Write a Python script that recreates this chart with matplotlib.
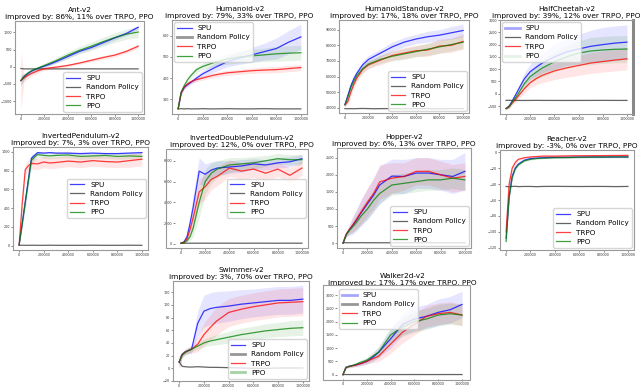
import numpy as np
import matplotlib.pyplot as plt
from matplotlib.patches import Rectangle

steps = [0, 25000, 50000, 75000, 100000, 150000, 200000, 250000, 300000,
         400000, 500000, 600000, 700000, 800000, 900000, 1000000]
x_ticks = [0, 200000, 400000, 600000, 800000, 1000000]
labels = ["SPU", "Random Policy", "TRPO", "PPO"]

# Ant-v2
ant_spu = [-400, -300, -220, -160, -110, -40, 20, 80, 150, 300, 450, 560, 700, 840, 970, 1150]
ant_spu_std = [150, 90, 70, 60, 50, 40, 40, 40, 40, 50, 50, 50, 60, 60, 60, 60]
ant_rand = [-50, -60, -62, -60, -61, -60, -59, -60, -61, -60, -60, -59, -61, -60, -60, -60]
ant_trpo = [-400, -330, -270, -220, -180, -110, -60, -30, -10, 40, 110, 190, 270, 340, 450, 600]
ant_trpo_std = [850, 120, 90, 80, 70, 60, 50, 45, 40, 40, 40, 45, 50, 50, 55, 60]
ant_ppo = [-400, -290, -210, -150, -100, -30, 40, 110, 180, 340, 480, 600, 730, 850, 950, 1010]
ant_ppo_std = [150, 90, 70, 60, 50, 50, 60, 70, 80, 100, 110, 120, 130, 140, 150, 160]
ant_yticks = [-1000, -500, 0, 500, 1000]

# Humanoid-v2
hum_spu = [255, 330, 355, 368, 378, 400, 420, 435, 450, 478, 495, 510, 525, 540, 570, 595]
hum_spu_std = [5, 10, 10, 10, 10, 12, 15, 18, 20, 25, 30, 35, 40, 50, 55, 60]
hum_rand = [254, 255, 254, 255, 254, 254, 255, 254, 254, 255, 254, 254, 255, 254, 254, 254]
hum_trpo = [255, 330, 358, 372, 382, 393, 400, 408, 415, 425, 430, 435, 438, 440, 445, 450]
hum_trpo_std = [5, 8, 8, 8, 8, 10, 10, 10, 12, 12, 12, 13, 14, 15, 15, 15]
hum_ppo = [255, 335, 365, 390, 410, 440, 455, 465, 475, 490, 500, 505, 510, 515, 518, 520]
hum_ppo_std = [5, 8, 10, 10, 12, 15, 15, 18, 20, 25, 28, 30, 32, 35, 35, 35]
hum_yticks = [300, 400, 500, 600]

# HumanoidStandup-v2
hs_spu = [42000, 48000, 54000, 58500, 62000, 67500, 71000, 73000, 75000, 79000, 82000, 84000, 85500, 86500, 88000, 89500]
hs_spu_std = [1500, 2000, 2500, 2500, 2500, 2500, 2500, 2500, 2500, 3000, 3000, 3000, 3500, 3500, 4000, 4000]
hs_rand = [39500, 39400, 39500, 39400, 39500, 39600, 39500, 39400, 39500, 39500, 39400, 39500, 39500, 39400, 39500, 39500]
hs_trpo = [42000, 44000, 50000, 55000, 59000, 64500, 67500, 69000, 70500, 73500, 75000, 76500, 77000, 79500, 80000, 82500]
hs_trpo_std = [1500, 2000, 2500, 2500, 2500, 2500, 2500, 2500, 3000, 3000, 3500, 3500, 4000, 4500, 4500, 5000]
hs_ppo = [42000, 47000, 53000, 57000, 60500, 65000, 68000, 69500, 71000, 73000, 74500, 76000, 77500, 79000, 80500, 82000]
hs_ppo_std = [1500, 2000, 2500, 2500, 2500, 2500, 2500, 2500, 2500, 3000, 3500, 3500, 4000, 4000, 4000, 4000]
hs_yticks = [40000, 50000, 60000, 70000, 80000, 90000]

# HalfCheetah-v2
hc_spu = [-600, -500, -300, -80, 150, 600, 900, 1080, 1250, 1500, 1700, 1820, 1930, 2000, 2060, 2100]
hc_spu_std = [50, 60, 80, 100, 150, 250, 300, 350, 400, 500, 550, 600, 650, 700, 700, 700]
hc_rand = [-270, -265, -270, -268, -270, -272, -270, -268, -270, -270, -272, -270, -270, -268, -270, -270]
hc_trpo = [-600, -540, -380, -250, -100, 200, 450, 620, 750, 930, 1050, 1150, 1250, 1310, 1370, 1420]
hc_trpo_std = [50, 60, 80, 100, 120, 180, 200, 250, 300, 350, 380, 400, 420, 430, 440, 450]
hc_ppo = [-600, -520, -350, -180, 0, 400, 700, 880, 1050, 1300, 1500, 1650, 1740, 1780, 1810, 1820]
hc_ppo_std = [50, 60, 80, 100, 120, 200, 250, 300, 350, 400, 450, 500, 550, 550, 550, 550]
hc_yticks = [-500, 0, 500, 1000, 1500, 2000, 2500, 3000]

# InvertedPendulum-v2
ip_spu = [10, 240, 470, 700, 930, 990, 985, 990, 985, 985, 980, 985, 980, 980, 985, 990]
ip_spu_std = [5, 40, 60, 60, 40, 10, 10, 10, 10, 10, 10, 10, 10, 10, 10, 10]
ip_rand = [5, 6, 5, 5, 6, 5, 5, 6, 5, 5, 5, 6, 5, 5, 6, 5]
ip_trpo = [10, 450, 810, 850, 875, 870, 890, 880, 885, 900, 890, 905, 895, 890, 905, 920]
ip_trpo_std = [5, 60, 60, 60, 60, 60, 60, 60, 60, 60, 60, 60, 60, 60, 70, 70]
ip_ppo = [10, 230, 460, 690, 910, 970, 960, 955, 960, 965, 950, 955, 960, 950, 955, 950]
ip_ppo_std = [5, 40, 60, 60, 50, 30, 30, 30, 30, 30, 30, 30, 30, 30, 30, 30]
ip_yticks = [0, 200, 400, 600, 800, 1000]

# InvertedDoublePendulum-v2
idp_spu = [50, 200, 700, 2000, 3500, 7000, 6700, 7100, 7300, 7400, 7500, 7700, 7600, 7800, 7900, 8200]
idp_spu_std = [20, 100, 300, 800, 1200, 1300, 1000, 800, 700, 600, 600, 500, 500, 500, 500, 400]
idp_rand = [60, 55, 60, 58, 60, 57, 60, 58, 59, 60, 58, 60, 59, 58, 60, 59]
idp_trpo = [50, 150, 500, 1400, 2500, 5000, 5500, 6200, 6500, 7300, 7000, 7200, 6800, 7200, 6600, 7300]
idp_trpo_std = [20, 80, 250, 600, 1000, 1200, 1200, 1000, 900, 800, 800, 800, 800, 700, 700, 700]
idp_ppo = [50, 100, 300, 700, 1500, 4000, 6000, 6800, 7200, 7600, 7700, 7800, 8000, 8200, 8100, 8100]
idp_ppo_std = [20, 50, 150, 400, 800, 1500, 1200, 1000, 800, 700, 600, 600, 500, 500, 500, 500]
idp_yticks = [0, 2000, 4000, 6000, 8000]

# Hopper-v2
hop_spu = [0, 250, 380, 500, 620, 900, 1150, 1400, 1700, 1960, 1950, 2050, 2050, 2000, 1950, 2100]
hop_spu_std = [10, 80, 150, 250, 300, 400, 450, 500, 550, 500, 500, 450, 450, 450, 500, 550]
hop_rand = [10, 12, 10, 11, 10, 12, 10, 11, 10, 10, 12, 10, 11, 10, 10, 11]
hop_trpo = [0, 260, 390, 510, 640, 920, 1200, 1450, 1790, 1900, 1950, 2100, 2100, 2000, 1900, 1950]
hop_trpo_std = [10, 70, 120, 200, 250, 350, 400, 450, 500, 450, 400, 400, 400, 400, 400, 400]
hop_ppo = [0, 240, 360, 460, 560, 800, 1000, 1250, 1450, 1700, 1750, 1800, 1850, 1850, 1900, 1850]
hop_ppo_std = [10, 60, 100, 150, 200, 250, 300, 300, 300, 300, 300, 300, 300, 300, 300, 300]
hop_yticks = [0, 500, 1000, 1500, 2000, 2500]

# Reacher-v2
rea_spu = [-108, -55, -30, -20, -15, -10, -8, -7.5, -7, -6.5, -6.5, -6.2, -6, -6, -6, -6]
rea_spu_std = [5, 4, 3, 2, 1.5, 1, 1, 1, 1, 1, 1, 1, 1, 1, 1, 1]
rea_rand = [-43, -43.5, -43, -42.8, -43.2, -43, -43, -43.3, -43, -42.9, -43, -43.1, -43, -43, -43.2, -43]
rea_trpo = [-100, -40, -20, -13, -9, -7, -6, -5.5, -5, -5, -4.7, -4.5, -4.4, -4.3, -4.2, -4]
rea_trpo_std = [5, 4, 3, 2, 1.5, 1, 1, 1, 1, 1, 1, 1, 1, 1, 1, 1]
rea_ppo = [-112, -57, -32, -21, -16, -11, -9, -8, -7.5, -7, -6.8, -6.5, -6.3, -6.2, -6, -6]
rea_ppo_std = [5, 4, 3, 2, 1.5, 1, 1, 1, 1, 1, 1, 1, 1, 1, 1, 1]
rea_yticks = [-120, -100, -80, -60, -40, -20, 0]

# Swimmer-v2
sw_spu = [10, 22, 26, 28, 30, 71, 90, 94, 96, 98, 101, 103, 105, 107, 107, 109]
sw_spu_std = [10, 4, 4, 5, 6, 20, 25, 25, 25, 24, 23, 22, 22, 22, 22, 22]
sw_rand = [10, 3, 2.5, 2, 2, 2.5, 2, 1.5, 1.5, 1, 0.5, 0, 0, 0.5, 0.5, 0.5]
sw_trpo = [10, 22, 26, 28, 30, 38, 53, 64, 74, 88, 93, 97, 100, 103, 104, 105]
sw_trpo_std = [10, 4, 4, 5, 6, 12, 18, 20, 22, 22, 22, 22, 22, 22, 22, 22]
sw_ppo = [10, 21, 25, 28, 30, 35, 40, 43, 45, 49, 53, 56, 59, 61, 63, 64]
sw_ppo_std = [10, 4, 4, 4, 4, 5, 6, 7, 8, 9, 10, 10, 11, 11, 12, 12]
sw_yticks = [-20, 0, 20, 40, 60, 80, 100, 120]

# Walker2d-v2
wk_spu = [0, 280, 320, 340, 360, 420, 500, 650, 850, 1350, 1900, 2100, 2200, 2350, 2450, 2650]
wk_spu_std = [5, 30, 40, 50, 60, 80, 100, 150, 200, 350, 400, 450, 450, 500, 500, 500]
wk_rand = [5, 6, 5, 5, 6, 5, 5, 6, 5, 5, 5, 6, 5, 5, 6, 5]
wk_trpo = [0, 260, 300, 330, 350, 420, 500, 600, 700, 1150, 1600, 1900, 2200, 2300, 2350, 2250]
wk_trpo_std = [5, 30, 40, 50, 60, 80, 100, 150, 200, 350, 400, 400, 400, 400, 400, 400]
wk_ppo = [0, 270, 310, 340, 380, 470, 550, 700, 850, 1500, 1800, 2000, 2100, 2250, 2300, 2250]
wk_ppo_std = [5, 30, 40, 50, 60, 80, 100, 150, 200, 300, 350, 400, 400, 400, 400, 400]
wk_yticks = [0, 500, 1000, 1500, 2000, 2500, 3000]

envs = [
    ("Ant-v2", "86%, 11%", ant_spu, ant_spu_std, ant_rand, ant_trpo, ant_trpo_std, ant_ppo, ant_ppo_std, ant_yticks),
    ("Humanoid-v2", "79%, 33%", hum_spu, hum_spu_std, hum_rand, hum_trpo, hum_trpo_std, hum_ppo, hum_ppo_std, hum_yticks),
    ("HumanoidStandup-v2", "17%, 18%", hs_spu, hs_spu_std, hs_rand, hs_trpo, hs_trpo_std, hs_ppo, hs_ppo_std, hs_yticks),
    ("HalfCheetah-v2", "39%, 12%", hc_spu, hc_spu_std, hc_rand, hc_trpo, hc_trpo_std, hc_ppo, hc_ppo_std, hc_yticks),
    ("InvertedPendulum-v2", "7%, 3%", ip_spu, ip_spu_std, ip_rand, ip_trpo, ip_trpo_std, ip_ppo, ip_ppo_std, ip_yticks),
    ("InvertedDoublePendulum-v2", "12%, 0%", idp_spu, idp_spu_std, idp_rand, idp_trpo, idp_trpo_std, idp_ppo, idp_ppo_std, idp_yticks),
    ("Hopper-v2", "6%, 13%", hop_spu, hop_spu_std, hop_rand, hop_trpo, hop_trpo_std, hop_ppo, hop_ppo_std, hop_yticks),
    ("Reacher-v2", "-3%, 0%", rea_spu, rea_spu_std, rea_rand, rea_trpo, rea_trpo_std, rea_ppo, rea_ppo_std, rea_yticks),
    ("Swimmer-v2", "3%, 70%", sw_spu, sw_spu_std, sw_rand, sw_trpo, sw_trpo_std, sw_ppo, sw_ppo_std, sw_yticks),
    ("Walker2d-v2", "17%, 17%", wk_spu, wk_spu_std, wk_rand, wk_trpo, wk_trpo_std, wk_ppo, wk_ppo_std, wk_yticks),
]

# axes boxes in pixels: left, right, top, bottom
boxes = [(15, 144, 21, 114), (172, 307, 20, 114), (339, 469, 20, 113), (500, 633, 20, 114),
         (13, 148, 147, 250), (175, 308, 149, 248), (337, 471, 148, 248), (500, 634, 150, 250),
         (173, 309, 281, 381), (337, 468, 287, 379)]
legend_locs = ["lower right", "upper left", "lower right", "upper left",
               "center right", "center right", "lower right", "lower right",
               "lower right", "upper left"]
# legend handles drawn thick/faint in the original
legend_fix = {1: {1: (2.0, 0.5)}, 3: {0: (2.0, 0.35), 3: (2.0, 0.1)},
              8: {1: (2.0, 0.5), 3: (2.0, 0.35)}, 9: {0: (2.0, 0.35), 1: (2.0, 0.5)}}
framed = [5, 9]

W, H = 640, 388
fig = plt.figure(figsize=(6.4, 3.88), dpi=100)
x = np.array(steps)

for i, env in enumerate(envs):
    name, imp, spu, spu_std, rand, trpo, trpo_std, ppo, ppo_std, yticks = env
    l, r, t, b = boxes[i]
    ax = fig.add_axes([l / W, 1 - b / H, (r - l) / W, (b - t) / H])

    series = [(spu, spu_std, "blue"), (rand, None, "#303030"),
              (trpo, trpo_std, "red"), (ppo, ppo_std, "green")]
    for (mean, std, c), lab in zip(series, labels):
        mean = np.array(mean, dtype=float)
        ax.plot(x, mean, color=c, lw=0.9, alpha=0.75, label=lab)
        if std is not None:
            std = np.array(std, dtype=float)
            ax.fill_between(x, mean - std, mean + std, color=c, alpha=0.1, lw=0)

    ax.set_title(name + "\nimproved by: " + imp + " over TRPO, PPO", fontsize=5.3, pad=1.5,
                 linespacing=1.1)
    ax.set_xticks(x_ticks)
    ax.set_yticks(yticks)
    ax.ticklabel_format(style="plain", useOffset=False)
    ax.tick_params(labelsize=2.4, length=1.5, width=0.4, pad=0.6, colors="#333333")
    for sp in ax.spines.values():
        sp.set_color("#999999")
        sp.set_linewidth(0.8)
    if i == 3:
        ax.spines["right"].set_linewidth(2.2)
        ax.spines["right"].set_color("#888888")

    leg = ax.legend(loc=legend_locs[i], fontsize=5.2, borderpad=0.4, labelspacing=0.45,
                    handlelength=2.0, borderaxespad=0.3, framealpha=0.8)
    for j, (lw, a) in legend_fix.get(i, {}).items():
        leg.get_lines()[j].set_linewidth(lw)
        leg.get_lines()[j].set_alpha(a)

    if i in framed:
        for sp in ax.spines.values():
            sp.set_visible(False)

# outer frames around two of the panels
fig.add_artist(Rectangle((166 / W, 1 - 248 / H), (308 - 166) / W, (248 - 149) / H,
                         transform=fig.transFigure, fill=False, ec="#999999", lw=0.8))
fig.add_artist(Rectangle((323 / W, 1 - 380 / H), (470 - 323) / W, (380 - 285) / H,
                         transform=fig.transFigure, fill=False, ec="#999999", lw=0.8))

fig.savefig("out.png", dpi=100)
